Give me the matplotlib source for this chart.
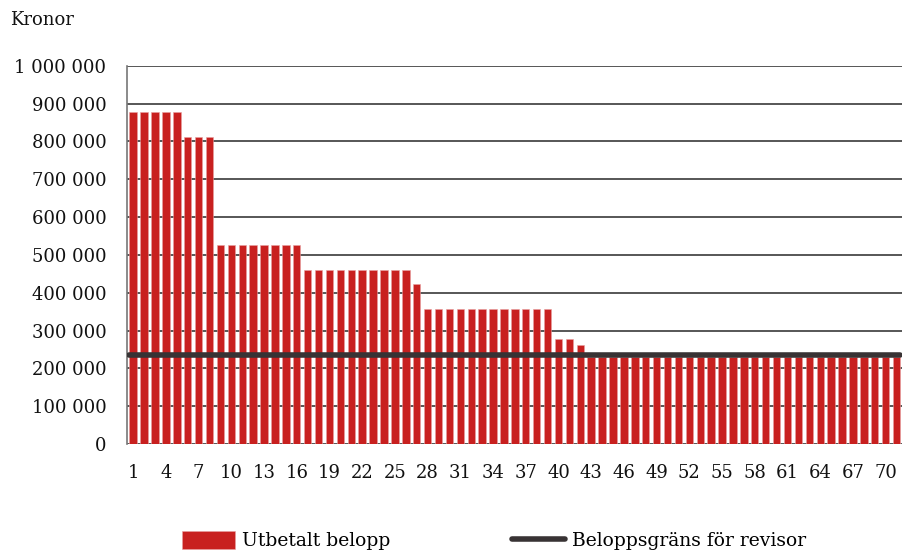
import numpy as np
import matplotlib
matplotlib.use('Agg')
import matplotlib.pyplot as plt
from matplotlib.ticker import FuncFormatter

# Utbetalt belopp per mottagare (kronor)
nummer = list(range(1, 72))
belopp = ([878000] * 5 + [812000] * 3 + [525000] * 8 + [461000] * 10 + [423000]
          + [357000] * 12 + [278000] * 2 + [263000] + [229000] * 29)
grans = 235000

plt.rcParams['font.family'] = ['DejaVu Serif']

fig = plt.figure(figsize=(9.02, 5.53), dpi=100)
ax = fig.add_axes([0.141, 0.197, 0.859, 0.684])

staplar = ax.bar(nummer, belopp, width=0.68, color='#C8201F', edgecolor='#E8A0A0',
                 linewidth=0.4, label='Utbetalt belopp', zorder=2)
linje, = ax.plot([0.6, 71.3], [grans, grans], color='#383334', linewidth=4,
                 solid_capstyle='round', label='Beloppsgräns för revisor', zorder=3)

ax.set_xlim(0.45, 71.5)
ax.set_ylim(0, 1000000)
ax.set_yticks(np.arange(0, 1000001, 100000))
ax.yaxis.set_major_formatter(FuncFormatter(lambda v, p: f'{int(v):,}'.replace(',', ' ')))
ax.set_xticks(nummer[::3])
ax.tick_params(length=0, labelsize=13, colors='#111111')
ax.tick_params(axis='x', pad=14)
ax.tick_params(axis='y', pad=15)
ax.grid(axis='y', color='#3a3a3a', linewidth=1.2, zorder=0)
ax.set_axisbelow(True)
for s in ['top', 'right', 'bottom']:
    ax.spines[s].set_visible(False)
ax.spines['left'].set_color('#777777')
ax.spines['left'].set_linewidth(1.2)

fig.text(0.011, 0.963, 'Kronor', fontsize=13, va='center', color='#111111')

fig.legend([staplar, linje], ['Utbetalt belopp', 'Beloppsgräns för revisor'],
           loc='center left', bbox_to_anchor=(0.202, 0.022), ncol=2, frameon=False,
           fontsize=13.5, handlelength=2.8, handleheight=1.05, handletextpad=0.4,
           columnspacing=6.5, borderpad=0, borderaxespad=0)

fig.savefig('out.png', dpi=100)
